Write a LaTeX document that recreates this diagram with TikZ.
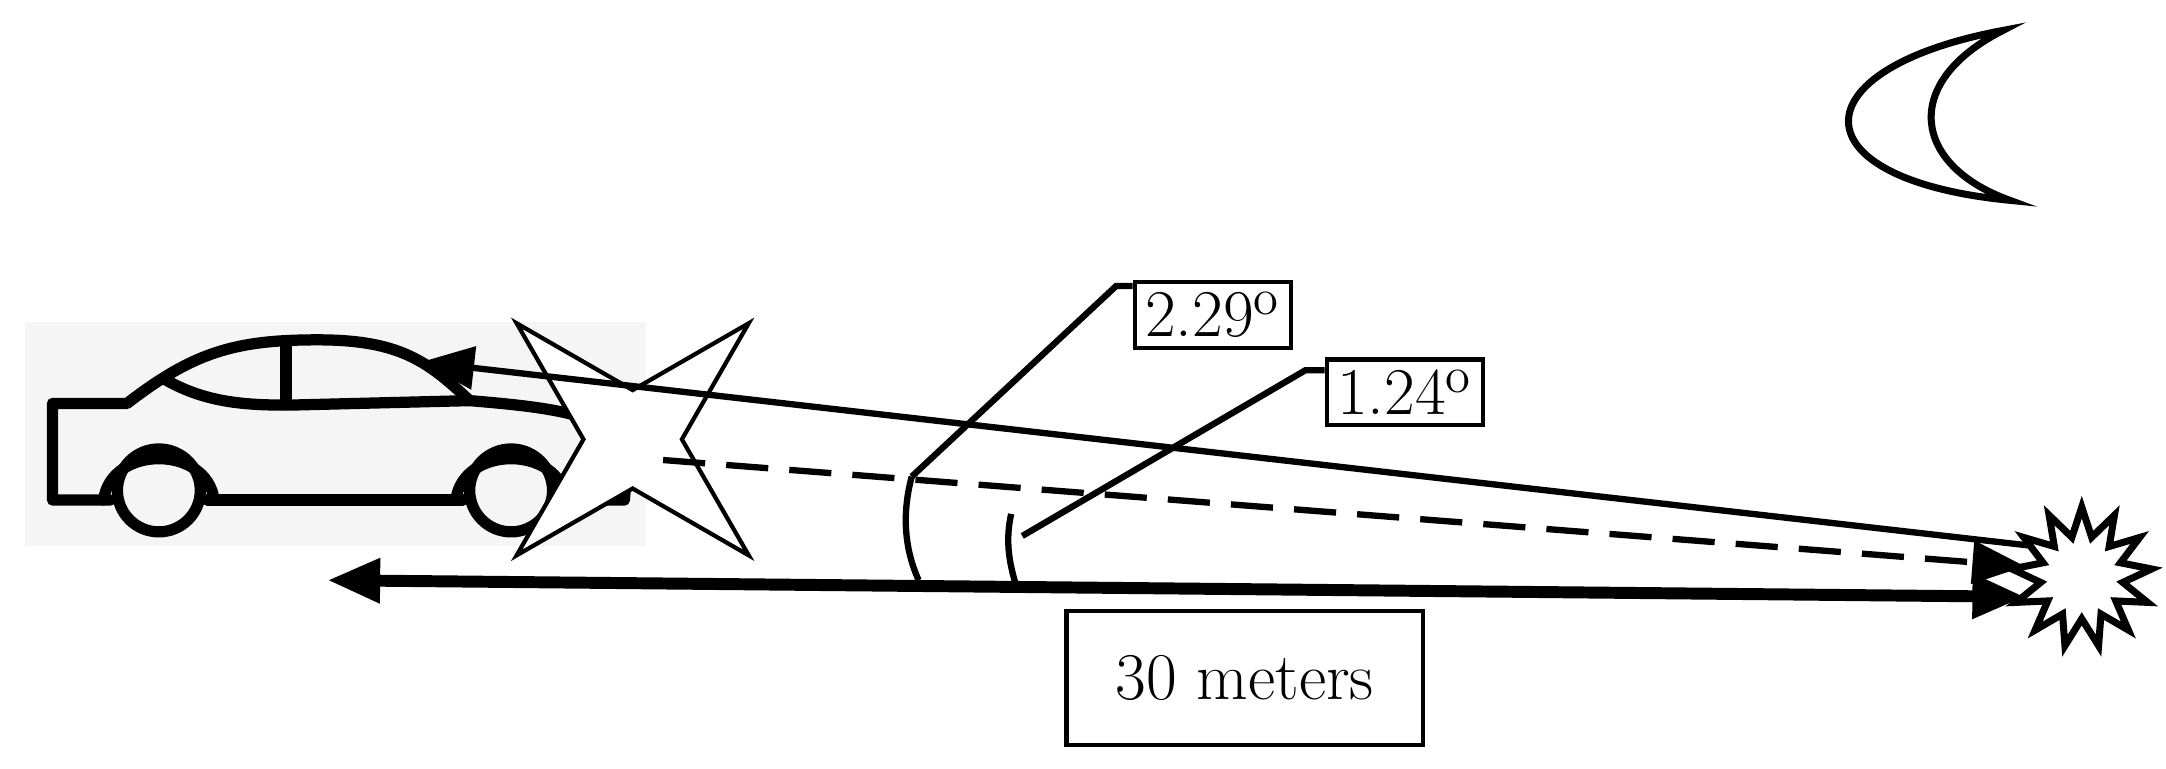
\documentclass[tikz,border=0pt]{standalone}
\usetikzlibrary{arrows.meta,shapes.geometric}
\begin{document}
\begin{tikzpicture}[x=0.013814cm,y=-0.013814cm,
  carline/.style={line width=3.2pt,line cap=round,line join=round},
  lbl/.style={draw,line width=1.2pt,font=\fontsize{19}{22}\selectfont,inner sep=3pt},
  ray/.style={line width=1.8pt,-{Triangle[length=15pt,width=12pt]}}]
\useasboundingbox (0,0) rectangle (1568,556);
% car
\fill[black!4] (18,233) rectangle (468,395);
\draw[carline] (80,362) -- (38,362) -- (38,292) -- (92,292) .. controls (140,255) and (170,246) .. (230,246) .. controls (290,246) and (310,262) .. (340,290)
  .. controls (400,295) and (440,300) .. (455,325) -- (452,362) -- (405,362);
\draw[carline] (150,362) -- (335,362);
\draw[carline] (120,275) .. controls (150,292) and (180,294) .. (220,293) -- (340,290);
\draw[carline] (207,248) -- (207,293);
\draw[carline] (115,355) circle (30);
\draw[carline] (370,355) circle (30);
\draw[carline] (75,362) .. controls (80,322) and (150,322) .. (155,362);
\draw[carline] (330,362) .. controls (335,322) and (405,322) .. (410,362);
% star
\node[star,star points=4,star point ratio=0.3,draw,fill=white,line width=1.2pt,minimum size=28pt,inner sep=0] (st) at (458,318) {};
% burst
\node[star,star points=13,star point ratio=1.7,draw,fill=white,line width=2pt,minimum size=40pt,inner sep=0] (bu) at (1507,418) {};
\coordinate (t1) at (305,262);
\coordinate (s1) at (1470,395);
\coordinate (d0) at (480,333);
\coordinate (d1) at (1466,410);
\coordinate (b0) at (237,420);
\coordinate (b1) at (1466,432);
\draw[ray] (s1) -- (t1);
\draw[ray,dash pattern=on 12pt off 6pt] (d0) -- (d1);
\draw[line width=3.4pt,{Triangle[length=15pt,width=12pt]}-{Triangle[length=15pt,width=12pt]}] (b0) -- (b1);
% arcs
\coordinate (a1) at (660,345); \coordinate (a2) at (732,372);
\draw[line width=1.8pt] (a1) .. controls (652,375) and (656,400) .. (665,420);
\draw[line width=1.8pt] (a2) .. controls (728,390) and (730,405) .. (735,422);
% labels
\node[lbl] (l1) at (878,228) {2.29$^{\mathrm{o}}$};
\node[lbl] (l2) at (1017,284) {1.24$^{\mathrm{o}}$};
\node[draw,line width=1.2pt,minimum width=3.56cm,minimum height=1.34cm,font=\fontsize{19}{22}\selectfont] (l3) at (901,491) {30 meters};
\coordinate (k1) at (808,207); \coordinate (k2) at (945,268);
\draw[line width=1.8pt] (a1) -- (k1) -- (k1 -| l1.west);
\draw[line width=1.8pt] (740,388) -- (k2) -- (k2 -| l2.west);
% moon
\draw[line width=2pt] (1450,22) .. controls (1300,50) and (1300,130) .. (1455,145) .. controls (1385,120) and (1375,60) .. (1450,22) -- cycle;
\end{tikzpicture}
\end{document}
